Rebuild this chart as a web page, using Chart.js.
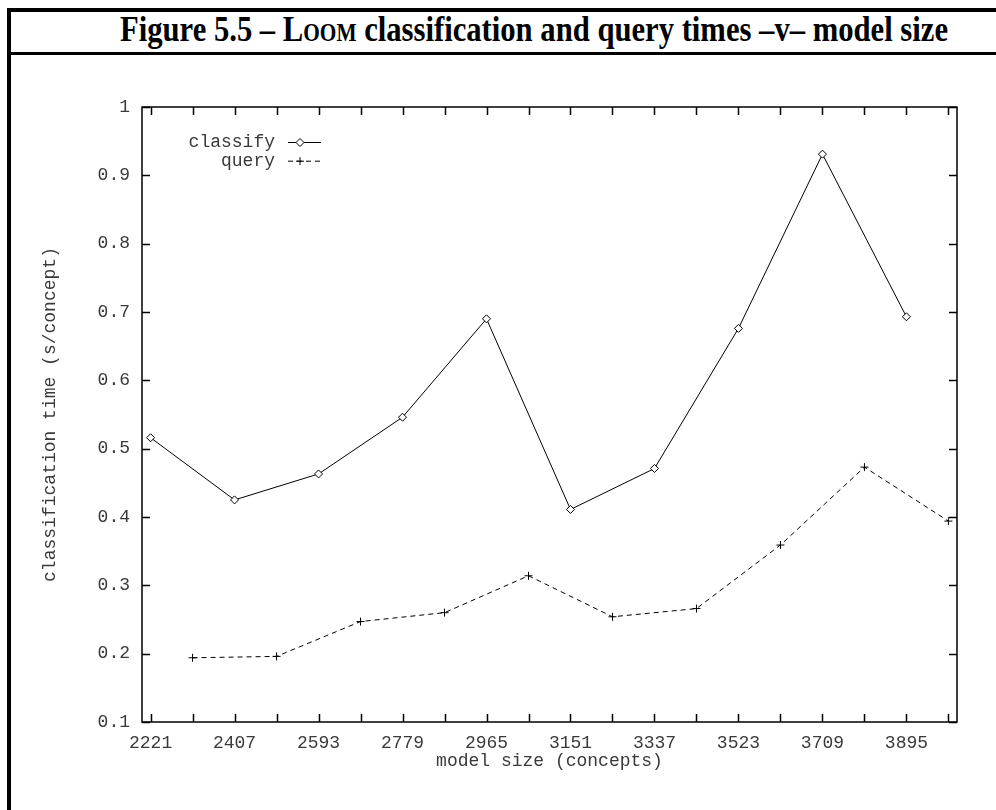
<!DOCTYPE html>
<html>
<head>
<meta charset="utf-8">
<script src="https://cdn.jsdelivr.net/npm/chart.js@4.4.0/dist/chart.umd.min.js"></script>
<style>
html,body{margin:0;padding:0;background:#fff;width:996px;height:810px;overflow:hidden;position:relative}
#frameL{position:absolute;left:7px;top:8px;width:4px;height:802px;background:#000}
#frameT{position:absolute;left:7px;top:8px;width:989px;height:4px;background:#000}
#sep{position:absolute;left:7px;top:52px;width:989px;height:3px;background:#000}
#title{position:absolute;left:120px;top:11px;font-family:"Liberation Serif","Times New Roman",serif;font-weight:bold;font-size:36px;line-height:36px;white-space:nowrap;transform-origin:0 0;color:#000}
#title .sc{font-variant:small-caps}
#wrap{position:absolute;left:0;top:0;width:996px;height:810px}
</style>
</head>
<body>
<div id="frameL"></div>
<div id="frameT"></div>
<div id="sep"></div>
<div id="title">Figure 5.5 – L<span class="sc">oom</span> classification and query times –v– model size</div>
<div id="wrap"><canvas id="c" width="996" height="810"></canvas></div>
<script>
// ---- data ----
const classifySize = [2221, 2407, 2593, 2779, 2965, 3151, 3337, 3523, 3709, 3895];
const classifyTime = [0.516, 0.425, 0.463, 0.546, 0.690, 0.411, 0.471, 0.676, 0.931, 0.693];
const querySize = [2314, 2500, 2686, 2872, 3058, 3244, 3430, 3616, 3802, 3988];
const queryTime = [0.194, 0.196, 0.247, 0.260, 0.314, 0.254, 0.266, 0.359, 0.473, 0.394];
const xTickLabels = ['2221', '2407', '2593', '2779', '2965', '3151', '3337', '3523', '3709', '3895'];
const xMinorTicks = [2314, 2500, 2686, 2872, 3058, 3244, 3430, 3616, 3802, 3988];
const yTickLabels = ['0.1', '0.2', '0.3', '0.4', '0.5', '0.6', '0.7', '0.8', '0.9', '1'];
const seriesNames = ['classify', 'query'];
const xAxisTitle = 'model size (concepts)';
const yAxisTitle = 'classification time (s/concept)';

// fit the title width
(function(){
  const t = document.getElementById('title');
  const w = t.getBoundingClientRect().width;
  t.style.transform = 'scaleX(' + (828 / w) + ')';
})();

const MONO = '"Liberation Mono", "Courier New", monospace';
const FS = 18;
const TXT = '#3a3a3a';
const xTickValues = xTickLabels.map(Number).concat(xMinorTicks).sort((a, b) => a - b);

const gnuFrame = {
  id: 'gnuFrame',
  afterDatasetsDraw(chart) {
    const {ctx, chartArea: {left, right, top, bottom}, scales: {x, y}} = chart;
    ctx.save();
    ctx.strokeStyle = '#000';
    ctx.lineWidth = 1.5;
    ctx.strokeRect(left, top, right - left, bottom - top);
    ctx.beginPath();
    const tl = 8;
    x.ticks.forEach(t => {
      const px = Math.round(x.getPixelForValue(t.value)) + 0.5;
      ctx.moveTo(px, bottom); ctx.lineTo(px, bottom - tl);
      ctx.moveTo(px, top); ctx.lineTo(px, top + tl);
    });
    y.ticks.forEach(t => {
      const py = Math.round(y.getPixelForValue(t.value)) + 0.5;
      ctx.moveTo(left, py); ctx.lineTo(left + tl, py);
      ctx.moveTo(right, py); ctx.lineTo(right - tl, py);
    });
    ctx.stroke();

    // key (legend) in gnuplot style
    ctx.font = FS + 'px ' + MONO;
    ctx.textAlign = 'right';
    ctx.textBaseline = 'middle';
    chart.data.datasets.forEach((ds, i) => {
      const ly = 142.5 + i * 18.7;
      ctx.fillStyle = TXT;
      ctx.fillText(ds.label, 275, ly);
      ctx.beginPath();
      ctx.setLineDash(ds.borderDash || []);
      ctx.lineWidth = ds.borderWidth;
      ctx.strokeStyle = ds.borderColor;
      ctx.moveTo(288, ly); ctx.lineTo(321, ly);
      ctx.stroke();
      ctx.setLineDash([]);
      ctx.fillStyle = ds.pointBackgroundColor;
      ctx.strokeStyle = ds.pointBorderColor;
      ctx.lineWidth = ds.pointBorderWidth;
      Chart.helpers.drawPoint(ctx, {pointStyle: ds.pointStyle, radius: ds.pointRadius, rotation: 0, borderWidth: ds.pointBorderWidth}, 300, ly);
    });
    ctx.restore();
  }
};

new Chart(document.getElementById('c'), {
  type: 'line',
  data: {
    datasets: [
      {
        label: seriesNames[0],
        data: classifySize.map((s, i) => ({x: s, y: classifyTime[i]})),
        borderColor: '#000',
        borderWidth: 1,
        pointStyle: 'rectRot',
        pointRadius: 4,
        pointBackgroundColor: '#fff',
        pointBorderColor: '#000',
        pointBorderWidth: 1,
        tension: 0,
        fill: false
      },
      {
        label: seriesNames[1],
        data: querySize.map((s, i) => ({x: s, y: queryTime[i]})),
        borderColor: '#000',
        borderWidth: 1,
        borderDash: [5, 4],
        pointStyle: 'cross',
        pointRadius: 4,
        pointBackgroundColor: '#000',
        pointBorderColor: '#000',
        pointBorderWidth: 1,
        tension: 0,
        fill: false
      }
    ]
  },
  options: {
    responsive: false,
    animation: false,
    devicePixelRatio: 1,
    layout: {padding: {left: 0, top: 107, right: 39, bottom: 0}},
    plugins: {legend: {display: false}, tooltip: {enabled: false}},
    scales: {
      x: {
        type: 'linear',
        min: 2202,
        max: 4007,
        afterBuildTicks: s => { s.ticks = xTickValues.map(v => ({value: v})); },
        afterFit: s => { s.height = 88; },
        grid: {display: false, drawTicks: false},
        border: {display: false},
        ticks: {
          autoSkip: false,
          maxRotation: 0,
          padding: 10,
          color: TXT,
          font: {family: MONO, size: FS},
          callback: v => (xTickLabels.includes(String(v)) ? String(v) : '')
        },
        title: {display: true, text: xAxisTitle, color: TXT, font: {family: MONO, size: FS}, padding: {top: 0, bottom: 38}}
      },
      y: {
        type: 'linear',
        min: 0.1,
        max: 1,
        afterBuildTicks: s => { s.ticks = yTickLabels.map(v => ({value: Number(v)})); },
        afterFit: s => { s.width = 142; },
        grid: {display: false, drawTicks: false},
        border: {display: false},
        ticks: {
          padding: 12,
          color: TXT,
          font: {family: MONO, size: FS},
          callback: (v, i) => yTickLabels[i]
        },
        title: {display: true, text: yAxisTitle, color: TXT, font: {family: MONO, size: FS}, padding: {top: 39, bottom: 0}}
      }
    }
  },
  plugins: [gnuFrame]
});
</script>
</body>
</html>
